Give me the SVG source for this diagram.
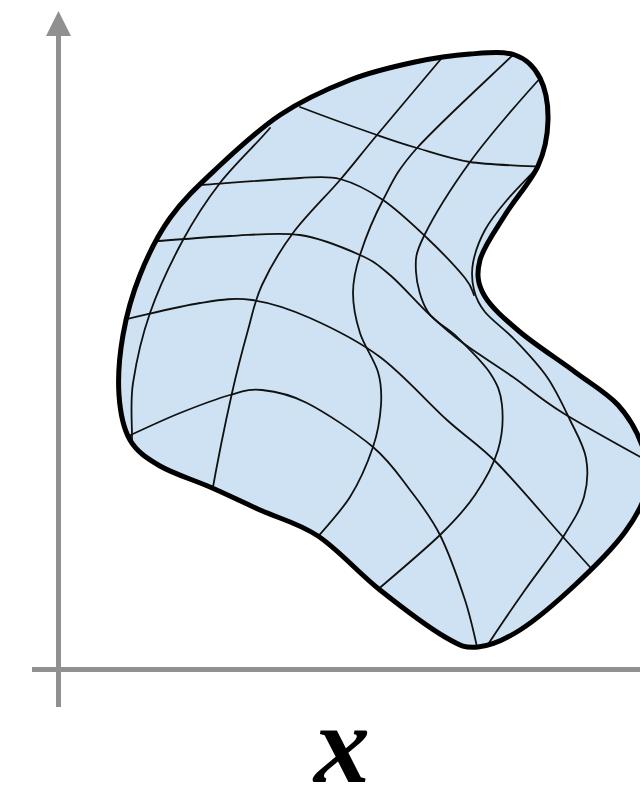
<svg xmlns="http://www.w3.org/2000/svg" xmlns:xlink="http://www.w3.org/1999/xlink" width="640" height="807" viewBox="0 0 640 807">
<style>
.axis{stroke:#909090;stroke-width:5;fill:none}
.grid{stroke:#111;stroke-width:1.8;fill:none;stroke-linecap:round}
.outline{stroke:#000;stroke-width:5;fill:none;stroke-linejoin:round}
.lbl{font-family:"Liberation Serif","Times New Roman",serif;font-style:italic;font-weight:bold;font-size:112px;fill:#000}
</style>
<defs>
<path id="blob" d="M470,54 C486.7,52.8 503.3,51 515,55 C526.7,59 534.5,67.2 540,78 C545.5,88.8 548.3,105.3 548,120 C547.7,134.7 545.2,150.2 538,166 C530.8,181.8 514.7,199.3 505,215 C495.3,230.7 483.5,246.7 480,260 C476.5,273.3 477.3,283 484,295 C490.7,307 504.8,319.2 520,332 C535.2,344.8 558.7,359.8 575,372 C591.3,384.2 606.8,392.8 618,405 C629.2,417.2 637,431.7 642,445 C647,458.3 650.8,470.5 648,485 C645.2,499.5 637.2,515.3 625,532 C612.8,548.7 592.5,568.7 575,585 C557.5,601.3 536.2,619.7 520,630 C503.8,640.3 490.5,645.8 478,647 C465.5,648.2 461.3,646.5 445,637 C428.7,627.5 401.2,606.8 380,590 C358.8,573.2 338,549.3 318,536 C298,522.7 278,518.2 260,510 C242,501.8 226.7,494.3 210,487 C193.3,479.7 173.3,473.8 160,466 C146.7,458.2 136.8,451.8 130,440 C123.2,428.2 120.2,412.5 119,395 C117.8,377.5 119.5,355 123,335 C126.5,315 132.2,294.5 140,275 C147.8,255.5 157.5,235.5 170,218 C182.5,200.5 196.7,187.2 215,170 C233.3,152.8 257.5,130 280,115 C302.5,100 327.5,88.8 350,80 C372.5,71.2 395,66.3 415,62 C435,57.7 453.3,55.2 470,54 Z"/>
<clipPath id="clip"><use xlink:href="#blob" href="#blob"/></clipPath>
</defs>
<g id="axes">
<line class="axis" x1="58.5" y1="34" x2="58.5" y2="707"/>
<polygon points="58.5,11 46,36 71,36" fill="#909090"/>
<line class="axis" x1="32" y1="669.5" x2="640" y2="669.5"/>
</g>
<g id="shape">
<use href="#blob" xlink:href="#blob" fill="#cfe2f3"/>
</g>
<g id="connectors" clip-path="url(#clip)">
<path class="grid" d="M300,107 C313,112 359.7,129 377,135 C394.3,141 401.5,143.5 417,148 C432.5,152.5 450,158.8 470,162 C490,165.2 535,166.2 550,167"/>
<path class="grid" d="M195,185.5 C219.2,183.8 277.2,179 300,178 C313.8,177.6 326.2,175.3 340,179 C353.8,182.7 368.5,190.2 383,200 C397.5,209.8 413.3,225 427,238 C440.7,251 457.2,268.5 465,278 C472.8,287.5 472.5,292.2 474,295"/>
<path class="grid" d="M150,241.5 C171.7,240.2 206.7,237 230,236 C253.3,235 278.3,231.8 300,235 C321.7,238.2 345,248.3 360,255 C375,261.7 378.3,265 390,275 C401.7,285 417.8,303.7 430,315 C442.2,326.3 449.2,332.7 463,343 C476.8,353.3 496.3,365.3 513,377 C529.7,388.7 538.5,397.8 563,413 C587.5,428.2 643.8,458.8 660,468"/>
<path class="grid" d="M118,321 C140,316.3 179.3,306.2 200,303 C220.7,299.8 233.7,297.5 252,300 C270.3,302.5 288.7,308.5 310,318 C331.3,327.5 357.2,340 380,357 C402.8,374 427.5,402.3 447,420 C466.5,437.7 477.7,443.5 497,463 C516.3,482.5 545.8,517.8 563,537 C580.2,556.2 593.8,571.2 605,584"/>
<path class="grid" d="M120,440 C136.7,432.2 163,419.8 180,413 C197,406.2 216.3,398.8 230,395 C243.7,391.2 249.2,388.7 262,390 C274.8,391.3 288.5,393.5 307,403 C325.5,412.5 355.8,432.5 373,447 C390.2,461.5 398.8,475.3 410,490 C421.2,504.7 430.8,516.7 440,535 C449.2,553.3 458.7,580.8 465,600 C471.3,619.2 475.8,641.7 479,656"/>
<path class="grid" d="M270,128 C255.8,144.7 233.3,165.8 220,183 C206.7,200.2 194.7,218.3 183,240 C171.3,261.7 158.3,289.2 150,313 C141.7,336.8 136,363.5 133,383 C130,402.5 132.2,422.2 132,440"/>
<path class="grid" d="M446,53 C429.5,72.5 393.7,115 377,135 C360.3,155 354,163.7 340,180 C326,196.3 306,215.5 293,233 C280,250.5 269.5,268.8 262,285 C254.5,301.2 253,312 248,330 C243,348 238,366.3 232,393 C226,419.7 215.3,473.8 211,498"/>
<path class="grid" d="M517,51 C494.5,73 438.2,124.3 417,148 C395.8,171.7 392.5,182.2 383,200 C373.5,217.8 365,239.5 360,255 C355,270.5 353,280 353,293 C353,306 355.8,319.8 360,333 C364.2,346.2 374.5,360 378,372 C381.5,384 381.8,392.5 381,405 C380.2,417.5 378.2,431.7 373,447 C367.8,462.3 359.7,481.5 350,497 C340.3,512.5 320.8,532.8 310,546"/>
<path class="grid" d="M545,73 C525.8,93.7 488.8,136 470,162 C451.2,188 433,217.7 424,236 C415,254.3 415.3,259.3 416,272 C416.7,284.7 421.2,301.2 428,312 C434.8,322.8 446.7,326.8 457,337 C467.3,347.2 482.5,361.7 490,373 C497.5,384.3 500.7,392.2 502,405 C503.3,417.8 502.5,435 498,450 C493.5,465 484.7,480.8 475,495 C465.3,509.2 456.7,518.8 440,535 C423.3,551.2 385.8,582.5 368,598"/>
<path class="grid" d="M548,157 C534.5,170.8 516.2,189.2 507,200 C497.8,210.8 490.7,219.5 485,230 C479.3,240.5 474.8,253 473,263 C471.2,273 472,281.8 474,290 C476,298.2 478.2,303.7 485,312 C491.8,320.3 504.7,329.2 515,340 C525.3,350.8 537.8,363.7 547,377 C556.2,390.3 563.5,406.5 570,420 C576.5,433.5 583.7,445.2 586,458 C588.3,470.8 587.8,483.8 584,497 C580.2,510.2 572.8,521.5 563,537 C553.2,552.5 538,571.5 525,590 C512,608.5 491.7,638.3 482,654"/>
</g>
<g id="border">
<use href="#blob" xlink:href="#blob" class="outline"/>
</g>
<g id="label">
<text class="lbl" x="342" y="782" text-anchor="middle">x</text>
</g>
</svg>
